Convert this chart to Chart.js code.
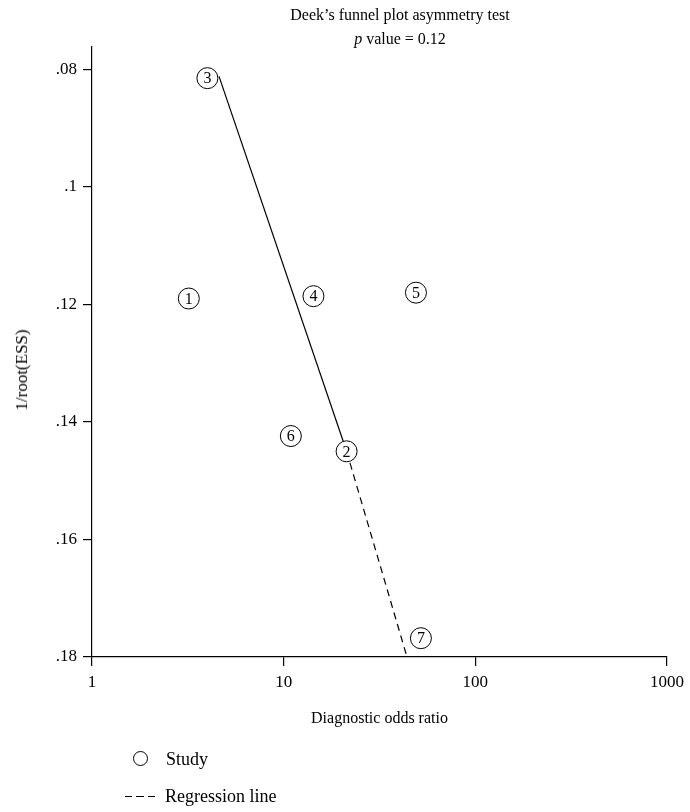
<!DOCTYPE html>
<html>
<head>
<meta charset="utf-8">
<script src="https://cdn.jsdelivr.net/npm/chart.js@4.4.0/dist/chart.umd.min.js"></script>
<style>
    body { margin: 0; background: #fff; font-family: 'Liberation Serif', serif; color: #000; }
    #wrap { position: relative; width: 690px; height: 812px; }
    canvas { position: absolute; left: 0; top: 0; }
    .titulo { position: absolute; left: 280px; width: 240px; text-align: center; font-size: 16px; white-space: nowrap; }
    .ytitulo { position: absolute; left: 22px; top: 370px; font-size: 17px; white-space: nowrap; transform: translate(-50%, -50%) rotate(-90deg); }
    .leyenda { position: absolute; left: 125px; font-size: 18px; }
    .circulo { display: inline-block; width: 13px; height: 13px; border: 1.3px solid #000; border-radius: 50%; vertical-align: -1px; margin-right: 18px; margin-left: 8px; }
    .guiones { display: inline-block; width: 30px; height: 1.3px; background: repeating-linear-gradient(to right, #000 0 7px, transparent 7px 11.5px); vertical-align: 5px; margin-right: 10px; }
</style>
</head>
<body>
<div id="wrap">
    <canvas id="chartFunnel" width="690" height="812"></canvas>
    <div class="titulo" style="top: 6px;">Deek’s funnel plot asymmetry test</div>
    <div class="titulo" style="top: 30px;"><i>p</i> value = 0.12</div>
    <div class="ytitulo">1/root(ESS)</div>
    <div class="leyenda" style="top: 749px;"><span class="circulo"></span>Study</div>
    <div class="leyenda" style="top: 786px;"><span class="guiones"></span>Regression line</div>
</div>
<script>
const estudios = ['1', '2', '3', '4', '5', '6', '7'];
const oddsRatio = [3.2, 21.3, 4.0, 14.3, 49, 10.9, 52];
const invRaizESS = [0.119, 0.145, 0.0815, 0.1186, 0.118, 0.1424, 0.1768];

const regSolidaX = [4.6, 21.3];
const regSolidaY = [0.0812, 0.145];
const regGuionX = [21.3, 44];
const regGuionY = [0.145, 0.18];

const xTicks = [1, 10, 100, 1000];
const yTicks = [0.08, 0.1, 0.12, 0.14, 0.16, 0.18];

const fuente = { family: "'Liberation Serif', serif", size: 17 };

function puntos(xs, ys) {
    return xs.map((x, i) => ({ x: x, y: ys[i] }));
}

function formatTick(v) {
    return parseFloat(v.toFixed(2)).toString().replace(/^0/, '');
}

const numerosPlugin = {
    id: 'numeros',
    afterDatasetsDraw(chart) {
        const ctx = chart.ctx;
        const meta = chart.getDatasetMeta(0);
        ctx.save();
        ctx.fillStyle = '#000';
        ctx.font = "16px 'Liberation Serif', serif";
        ctx.textAlign = 'center';
        ctx.textBaseline = 'middle';
        meta.data.forEach((p, i) => {
            ctx.fillText(estudios[i], p.x, p.y + 1);
        });
        ctx.restore();
    }
};

const ctx = document.getElementById('chartFunnel').getContext('2d');
new Chart(ctx, {
    type: 'scatter',
    data: {
        datasets: [
            {
                label: 'Study',
                data: puntos(oddsRatio, invRaizESS),
                pointRadius: 10.5,
                pointHoverRadius: 10.5,
                borderColor: '#000',
                borderWidth: 1,
                backgroundColor: '#fff',
                order: 0
            },
            {
                label: 'Regression',
                type: 'line',
                data: puntos(regSolidaX, regSolidaY),
                borderColor: '#000',
                borderWidth: 1.2,
                pointRadius: 0,
                fill: false,
                order: 1
            },
            {
                label: 'Regression line',
                type: 'line',
                data: puntos(regGuionX, regGuionY),
                borderColor: '#000',
                borderWidth: 1.2,
                borderDash: [7, 5],
                pointRadius: 0,
                fill: false,
                order: 1
            }
        ]
    },
    plugins: [numerosPlugin],
    options: {
        responsive: false,
        animation: false,
        layout: { padding: { top: 47, right: 22, bottom: 80, left: 0 } },
        plugins: {
            legend: { display: false },
            tooltip: { enabled: false }
        },
        scales: {
            x: {
                type: 'logarithmic',
                min: 1,
                max: 1000,
                afterBuildTicks: s => { s.ticks = xTicks.map(v => ({ value: v })); },
                afterFit: s => { s.height = 75; },
                border: { display: true, color: '#000', width: 1.2 },
                grid: { display: true, drawOnChartArea: false, drawTicks: true, tickLength: 9, color: '#000', lineWidth: 1.2 },
                ticks: { color: '#000', font: fuente, padding: 6, maxRotation: 0, callback: v => String(v) },
                title: { display: true, text: 'Diagnostic odds ratio', color: '#000', font: { family: fuente.family, size: 16 }, padding: { top: 9 } }
            },
            y: {
                reverse: true,
                min: 0.0762,
                max: 0.18,
                afterBuildTicks: s => { s.ticks = yTicks.map(v => ({ value: v })); },
                afterFit: s => { s.width = 92; },
                border: { display: true, color: '#000', width: 1.2 },
                grid: { display: true, drawOnChartArea: false, drawTicks: true, tickLength: 9, color: '#000', lineWidth: 1.2 },
                ticks: { color: '#000', font: fuente, padding: 6, callback: v => formatTick(v) },
                title: { display: false }
            }
        }
    }
});
</script>
</body>
</html>
